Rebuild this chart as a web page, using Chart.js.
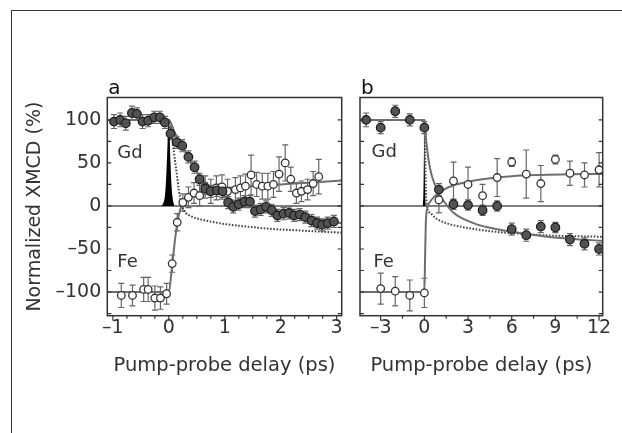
<!DOCTYPE html>
<html><head><meta charset="utf-8">
<script src="https://cdn.jsdelivr.net/npm/chart.js@4"></script>
<style>
html,body{margin:0;padding:0;background:#fff;width:622px;height:433px;overflow:hidden}
#frame{position:absolute;left:11px;top:10px;width:620px;height:430px;border-top:1.5px solid #333;border-left:1.5px solid #333;box-sizing:border-box}
#ca{position:absolute;left:0;top:0}
#cb{position:absolute;left:352px;top:0}
</style></head>
<body>
<div id="frame"></div>
<canvas id="ca" width="352" height="433"></canvas>
<canvas id="cb" width="270" height="433"></canvas>
<script>
// ---------- tick labels ----------
const xTicksA = [-1, 0, 1, 2, 3];
const xTickLabelsA = ['–1', '0', '1', '2', '3'];
const xTicksB = [-3, 0, 3, 6, 9, 12];
const xTickLabelsB = ['–3', '0', '3', '6', '9', '12'];
const yTicks = [-100, -50, 0, 50, 100];
const yTickLabels = ['–100', '–50', '0', '50', '100'];

// ---------- panel a : Gd (filled) ----------
const gdA_t = [-0.98,-0.87,-0.77,-0.66,-0.57,-0.47,-0.37,-0.26,-0.16,-0.07,0.03,0.14,0.24,0.35,0.46,0.55,0.65,0.75,0.86,0.96,1.06,1.15,1.25,1.35,1.45,1.54,1.64,1.74,1.84,1.94,2.05,2.15,2.24,2.34,2.44,2.55,2.65,2.74,2.84,2.95];
const gdA_v = [98,100,96,108,107,98,99,103,103,97,84,74,70,57,45,31,20,17,18,17,4,-1,2,5,5,-6,-4,-1,-5,-11,-9,-8,-11,-10,-13,-17,-20,-22,-20,-18];
const gdA_e = [8,8,8,8,7,8,7,7,7,7,7,7,7,7,7,7,7,7,7,7,7,7,7,7,7,7,7,7,7,7,7,7,7,7,7,7,7,7,7,7];
// ---------- panel a : Fe (open) ----------
const feA_t = [-0.85,-0.65,-0.45,-0.37,-0.25,-0.15,-0.04,0.06,0.15,0.25,0.35,0.45,0.55,0.65,0.75,0.85,0.95,1.05,1.19,1.28,1.37,1.47,1.57,1.67,1.77,1.87,1.97,2.08,2.18,2.28,2.37,2.48,2.58,2.68];
const feA_v = [-104,-104,-97,-97,-107,-107,-102,-67,-19,4,10,15,12,22,17,21,22,17,19,21,23,36,25,23,23,25,37,50,31,15,17,19,26,34];
const feA_e = [14,12,14,14,14,13,12,10,10,10,12,12,12,13,14,14,14,14,14,14,14,23,14,15,15,15,20,21,14,12,12,12,14,20];
// ---------- panel a : fits ----------
const gdFitA_t = [-1.1,0,0.1,0.2,0.3,0.4,0.5,0.6,0.7,0.85,1.0,1.2,1.5,2.0,2.5,3.09];
const gdFitA_v = [100,100,86,74,62,51,40,31,24,17,11,5,0,-7,-13,-20];
const feFitA_t = [-1.1,0,0.05,0.1,0.15,0.2,0.25,0.3,0.4,0.6,0.8,1.0,1.5,2.0,2.5,3.09];
const feFitA_v = [-100,-100,-75,-45,-20,-5,3,8,13,17,19.5,21,23,25,27,29.5];
const dotA_t = [-1.1,0,0.03,0.06,0.1,0.14,0.18,0.22,0.26,0.3,0.4,0.5,0.7,1.0,1.4,1.8,2.2,2.6,3.09];
const dotA_v = [100,100,92,78,58,38,18,4,-4,-8,-12,-14.5,-17.5,-21,-24,-26.5,-28,-29.5,-31];
const pulse_t = [-0.13,-0.1,-0.07,-0.05,-0.03,-0.015,0,0.015,0.03,0.05,0.07,0.1];
const pulse_v = [0,3,12,30,60,85,100,80,50,22,8,0];

// ---------- panel b : Gd (filled) ----------
const gdB_t = [-4,-3,-2,-1,0,1,2,3,4,5,6,7,8,9,10,11,12];
const gdB_v = [100,91,110,100,91,19,2,1,-5,0,-27,-34,-24,-25,-39,-44,-50];
const gdB_e = [8,7,7,7,7,7,6,6,6,6,7,7,7,6,7,7,7];
// ---------- panel b : Fe (open) ----------
const feB_t = [-3,-2,-1,0,1,2,3,4,5,6,7,8,9,10,11,12];
const feB_v = [-96,-99,-104,-101,7,29,25,12,33,51,37,26,54,38,36,42];
const feB_e = [18,17,18,17,15,22,20,13,22,5,28,21,5,14,14,20];
// ---------- panel b : fits ----------
const gdFitB_t = [-4.42,0,0.05,0.15,0.3,0.5,0.7,1.0,1.4,2.0,2.8,3.7,5.0,6.0,8.3,10,12.25];
const gdFitB_v = [100,100,90,72,52,36,26,14,4,-8,-16,-22,-27,-30,-35.5,-38,-40.5];
const feFitB_t = [-4.42,0,0.05,0.1,0.2,0.4,0.7,1.2,2.0,3.0,4.0,6.0,8.0,10,12.25];
const feFitB_v = [-100,-100,-60,-20,-3,5,11,17.5,24,28,31,34.5,36,36.8,37.2];
const dotB_t = [-4.42,0,0.05,0.1,0.2,0.4,0.7,1.0,1.6,2.6,3.7,4.9,6.0,7.2,8.5,10,12.25];
const dotB_v = [100,100,60,20,-3,-8,-13,-16.5,-20.5,-24.5,-27.5,-30,-31.5,-33,-34.3,-35,-35.8];

// ---------- style ----------
const FONT = "'DejaVu Sans', sans-serif";
const TXT = '#333';
const pts = (t, v) => t.map((x, i) => ({x, y: v[i]}));

const decor = {
  id: 'decor',
  beforeDatasetsDraw(chart) {
    const {ctx, chartArea: a, scales: {x, y}} = chart;
    ctx.save();
    ctx.beginPath(); ctx.rect(a.left, a.top, a.right - a.left, a.bottom - a.top); ctx.clip();
    const y0 = y.getPixelForValue(0);
    ctx.strokeStyle = '#555'; ctx.lineWidth = 1.5;
    ctx.beginPath(); ctx.moveTo(a.left, y0); ctx.lineTo(a.right, y0); ctx.stroke();
    chart.data.datasets.forEach(ds => {
      if (!ds.err) return;
      ctx.strokeStyle = '#666'; ctx.lineWidth = 1.2;
      ds.data.forEach((p, j) => {
        const px = x.getPixelForValue(p.x);
        const lo = y.getPixelForValue(p.y - ds.err[j]);
        const hi = y.getPixelForValue(p.y + ds.err[j]);
        ctx.beginPath();
        ctx.moveTo(px, lo); ctx.lineTo(px, hi);
        ctx.moveTo(px - 3, lo); ctx.lineTo(px + 3, lo);
        ctx.moveTo(px - 3, hi); ctx.lineTo(px + 3, hi);
        ctx.stroke();
      });
    });
    ctx.restore();
  },
  afterDraw(chart, args, o) {
    const {ctx, chartArea: a, scales: {x, y}} = chart;
    ctx.save();
    ctx.strokeStyle = '#333'; ctx.lineWidth = 1.5;
    ctx.strokeRect(a.left, a.top, a.right - a.left, a.bottom - a.top);
    ctx.lineWidth = 1.2;
    ctx.beginPath();
    for (let v = -125; v <= 125; v += o.yStep) {
      const py = y.getPixelForValue(v);
      if (py < a.top + 1 || py > a.bottom - 1) continue;
      ctx.moveTo(a.left, py); ctx.lineTo(a.left + 4, py);
      ctx.moveTo(a.right, py); ctx.lineTo(a.right - 4, py);
    }
    for (let v = o.xFrom; v <= o.xTo + 1e-9; v += o.xStep) {
      const px = x.getPixelForValue(v);
      const major = Math.abs(v - Math.round(v / o.xMajor) * o.xMajor) < 1e-6;
      ctx.moveTo(px, a.bottom); ctx.lineTo(px, a.bottom + (major ? 5 : 3));
    }
    ctx.stroke();
    ctx.fillStyle = '#111';
    ctx.font = '20px ' + FONT;
    ctx.textBaseline = 'alphabetic'; ctx.textAlign = 'left';
    ctx.fillText(o.panel, a.left + 1, a.top - 4);
    ctx.fillStyle = TXT;
    ctx.font = '18px ' + FONT;
    o.labels.forEach(l => ctx.fillText(l.text, x.getPixelForValue(l.x), y.getPixelForValue(l.y)));
    ctx.restore();
  }
};

function datasets(gd_t, gd_v, gd_e, fe_t, fe_v, fe_e, gf_t, gf_v, ff_t, ff_v, d_t, d_v) {
  const curve = {showLine: true, pointRadius: 0, cubicInterpolationMode: 'monotone'};
  return [
    {data: pts(gd_t, gd_v), err: gd_e, order: 1, pointRadius: 4.3, pointBackgroundColor: '#525252', pointBorderColor: '#1a1a1a', pointBorderWidth: 1.2, showLine: false},
    {data: pts(fe_t, fe_v), err: fe_e, order: 2, pointRadius: 3.8, pointBackgroundColor: '#fff', pointBorderColor: '#333', pointBorderWidth: 1.3, showLine: false},
    {...curve, data: pts(gf_t, gf_v), order: 4, borderColor: '#6e6e6e', borderWidth: 2},
    {...curve, data: pts(ff_t, ff_v), order: 4, borderColor: '#6e6e6e', borderWidth: 2},
    {...curve, data: pts(d_t, d_v), order: 5, borderColor: '#444', borderWidth: 2, borderDash: [1.6, 1.6]},
    {...curve, data: pts(pulse_t, pulse_v), order: 6, borderWidth: 0, borderColor: '#000', backgroundColor: '#000', fill: 'origin'}
  ];
}

function xAxis(min, max, ticks, labels) {
  return {
    type: 'linear', min, max,
    grid: {display: false, drawTicks: false}, border: {display: false},
    afterBuildTicks: s => { s.ticks = ticks.map(v => ({value: v})); },
    afterFit: s => { s.height = 117.3; },
    ticks: {padding: 1, color: TXT, font: {family: FONT, size: 19}, maxRotation: 0, autoSkip: false,
      callback: (v, i) => labels[i]},
    title: {display: true, text: 'Pump-probe delay (ps)', color: TXT, font: {family: FONT, size: 19.5},
      padding: {top: 0, bottom: 55}}
  };
}

new Chart(document.getElementById('ca'), {
  type: 'scatter',
  data: {datasets: datasets(gdA_t, gdA_v, gdA_e, feA_t, feA_v, feA_e, gdFitA_t, gdFitA_v, feFitA_t, feFitA_v, dotA_t, dotA_v)},
  options: {
    responsive: false, animation: false, devicePixelRatio: 1,
    layout: {padding: {left: 0, right: 10.3, top: 97.5, bottom: 0}},
    plugins: {legend: {display: false}, tooltip: {enabled: false},
      decor: {panel: 'a', yStep: 25, xFrom: -1, xTo: 3, xStep: 0.25, xMajor: 1,
        labels: [{text: 'Gd', x: -0.92, y: 56}, {text: 'Fe', x: -0.92, y: -71}]}},
    scales: {
      x: xAxis(-1.1, 3.09, xTicksA, xTickLabelsA),
      y: {type: 'linear', min: -127.5, max: 126,
        grid: {display: false, drawTicks: false}, border: {display: false},
        afterBuildTicks: s => { s.ticks = yTicks.map(v => ({value: v})); },
        afterFit: s => { s.width = 107.3; },
        ticks: {padding: 6, color: TXT, font: {family: FONT, size: 19}, callback: (v, i) => yTickLabels[i]},
        title: {display: true, text: 'Normalized XMCD (%)', color: TXT, font: {family: FONT, size: 19},
          padding: {top: 23.6, bottom: 0}}
      }
    }
  },
  plugins: [decor]
});

new Chart(document.getElementById('cb'), {
  type: 'scatter',
  data: {datasets: datasets(gdB_t, gdB_v, gdB_e, feB_t, feB_v, feB_e, gdFitB_t, gdFitB_v, feFitB_t, feFitB_v, dotB_t, dotB_v)},
  options: {
    responsive: false, animation: false, devicePixelRatio: 1,
    layout: {padding: {left: 8, right: 19.3, top: 97.5, bottom: 0}},
    plugins: {legend: {display: false}, tooltip: {enabled: false},
      decor: {panel: 'b', yStep: 25, xFrom: -3, xTo: 12, xStep: 1.5, xMajor: 3,
        labels: [{text: 'Gd', x: -3.63, y: 57}, {text: 'Fe', x: -3.5, y: -71}]}},
    scales: {
      x: xAxis(-4.42, 12.25, xTicksB, xTickLabelsB),
      y: {type: 'linear', min: -127.5, max: 126, display: false}
    }
  },
  plugins: [decor]
});
</script>
</body></html>
